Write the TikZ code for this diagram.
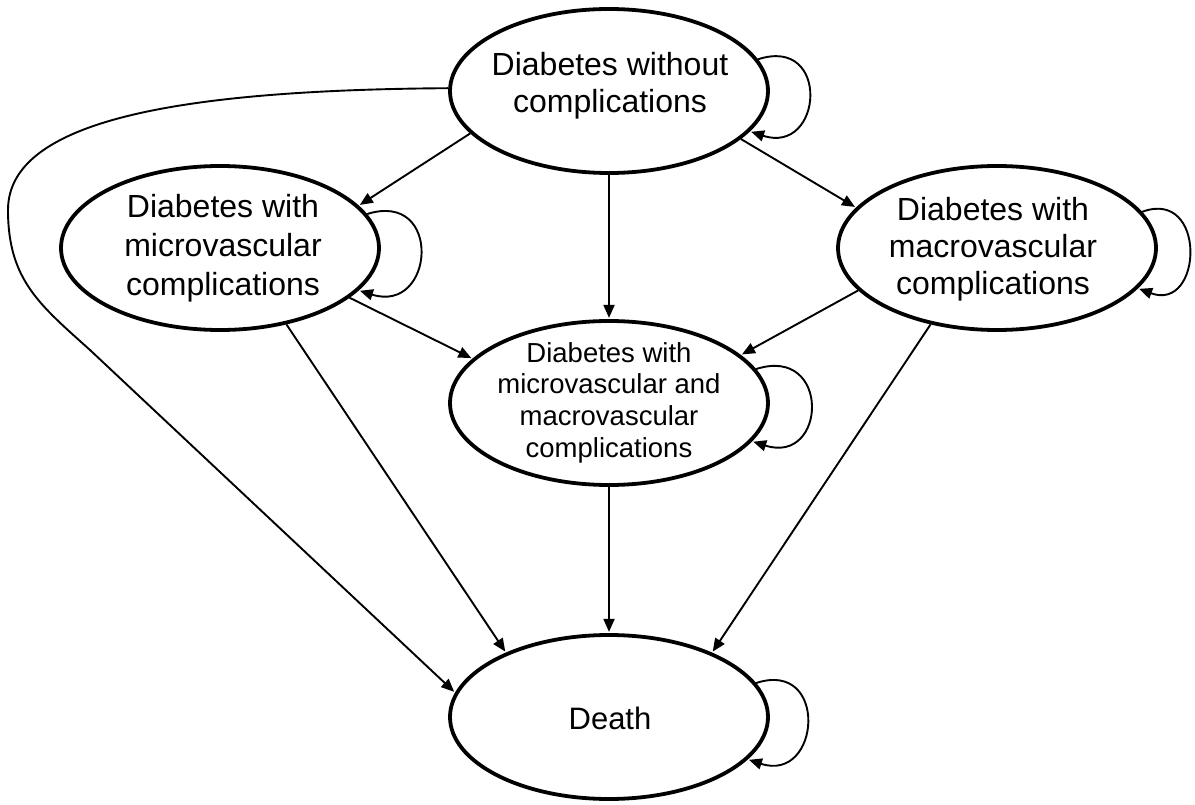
\documentclass[tikz,border=0pt]{standalone}
\usepackage{fontspec}
\setmainfont{Liberation Sans}
\usetikzlibrary{shapes.geometric,arrows.meta}
\tikzset{
  st/.style={ellipse, draw, line width=3.8pt, minimum width=318pt, minimum height=164pt, inner sep=0pt},
  lbl/.style={align=center, inner sep=0pt},
  arr/.style={line width=1.9pt, -{Triangle[length=13pt,width=11pt]}, shorten >=1.2pt},
}
\begin{document}
\begin{tikzpicture}[x=1pt,y=-1pt]
\useasboundingbox (0,0) rectangle (1195,805);
% states
\node[st] (top) at (609,91) {};
\node[st] (mic) at (220,248) {};
\node[st] (mac) at (997,248) {};
\node[st] (cen) at (609,403) {};
\node[st] (dea) at (609,717) {};
% texts
\node[lbl, font=\fontsize{32}{36.7}\selectfont] (topT) at (610,86) {Diabetes without\\complications};
\node[lbl, font=\fontsize{32}{39}\selectfont] (micT) at (223,248) {Diabetes with\\microvascular\\complications};
\node[lbl, font=\fontsize{32}{37}\selectfont] (macT) at (993,249) {Diabetes with\\macrovascular\\complications};
\node[lbl, font=\fontsize{27.5}{31.7}\selectfont] (cenT) at (609,402.5) {Diabetes with\\microvascular and\\macrovascular\\complications};
\node[lbl, font=\fontsize{31}{36}\selectfont] (deaT) at (610,718) {Death};
% transitions
\draw[arr] (top.197.6) -- (mic.17.5);
\draw[arr] (top.340.4) -- (mac.164.6);
\draw[arr] (top.270) -- (cen.90);
\draw[arr] (top.179) .. controls (180,90) and (8,120) .. (8,210)
  .. controls (8,280) and (40,305) .. (90,350) -- (dea.171.3);
\draw[arr] (mic.339) -- (cen.162.3);
\draw[arr] (mac.197) -- (cen.20.5);
\draw[arr] (mic.311) -- (dea.148);
\draw[arr] (mac.229) -- (dea.32);
\draw[arr] (cen.270) -- (dea.90);
% self loops
\draw[arr] (top.12.5) .. controls +(73,-24) and +(73,24) .. (top.344.3);
\draw[arr] (mic.13.5) .. controls +(76,-24) and +(76,24) .. (mic.343.7);
\draw[arr] (mac.14.6) .. controls +(65,-24) and +(65,24) .. (mac.344.7);
\draw[arr] (cen.13.7) .. controls +(75,-24) and +(75,24) .. (cen.345);
\draw[arr] (dea.13.2) .. controls +(73,-24) and +(73,24) .. (dea.343.8);
\end{tikzpicture}
\end{document}
